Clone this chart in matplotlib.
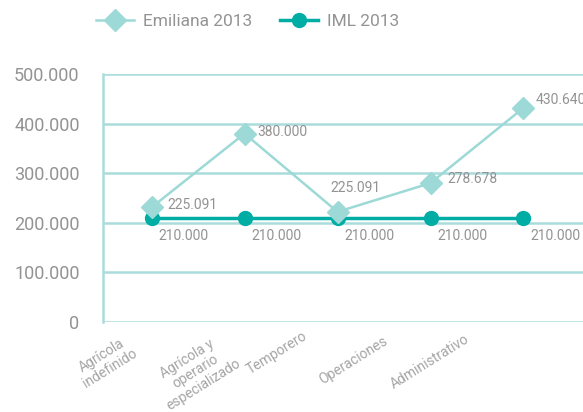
import matplotlib.pyplot as plt
import matplotlib.transforms as mtransforms

# datos
categorias = ['Agrícola\nindefinido', 'Agrícola y\noperario\nespecializado',
              'Temporero', 'Operaciones', 'Administrativo']
emiliana = [231000, 380000, 222000, 280000, 432000]
iml = [210000, 210000, 210000, 210000, 210000]
etiquetas_emiliana = ['225.091', '380.000', '225.091', '278.678', '430.640']
etiquetas_iml = ['210.000', '210.000', '210.000', '210.000', '210.000']
yticks = [0, 100000, 200000, 300000, 400000, 500000]
ytick_labels = ['0', '100.000', '200.000', '300.000', '400.000', '500.000']

plt.rcParams['font.family'] = ['Roboto', 'DejaVu Sans']
gris = '#939393'
c_emi = '#9dd9d6'
c_iml = '#00ada5'
c_grid = '#a9dcdb'

fig = plt.figure(figsize=(5.83, 4.12), dpi=100)
ax = fig.add_axes([0.177, 0.219, 0.823, 0.601])

x = list(range(len(categorias)))
ax.plot(x, emiliana, color=c_emi, lw=1.8, marker='D', ms=11, label='Emiliana 2013', zorder=4)
ax.plot(x, iml, color=c_iml, lw=2.5, marker='o', ms=10, label='IML 2013', zorder=3)

ax.set_xlim(-0.52, 4.64)
ax.set_ylim(0, 500000)
ax.set_yticks(yticks)
ax.set_yticklabels(ytick_labels, fontsize=13, color=gris)
ax.grid(axis='y', color=c_grid, lw=1.8)
ax.set_axisbelow(True)
for s in ['top', 'right', 'bottom']:
    ax.spines[s].set_visible(False)
ax.spines['left'].set_color(c_grid)
ax.spines['left'].set_linewidth(1.8)
ax.tick_params(axis='y', length=0, pad=17)
ax.tick_params(axis='x', length=0)

# etiquetas del eje x desplazadas y rotadas
ax.set_xticks(x)
ax.set_xticklabels(categorias, fontsize=10, color='#a5a5a5', rotation=32,
                   ha='center', va='center', rotation_mode='anchor',
                   multialignment='center', linespacing=1.1)
desplaz = [(-46, -40), (-49, -50), (-61, -31), (-77, -39), (-94, -40)]
for lab, (dx, dy) in zip(ax.get_xticklabels(), desplaz):
    off = mtransforms.ScaledTranslation(dx / 100, dy / 100 + 0.05, fig.dpi_scale_trans)
    lab.set_transform(lab.get_transform() + off)

# etiquetas de valores
off_emi = [(16, 2), (13, 2), (-7, 24), (17, 4), (12, 8)]
for xi, v, t, (dx, dy) in zip(x, emiliana, etiquetas_emiliana, off_emi):
    ax.annotate(t, (xi, v), xytext=(dx * 0.72, dy * 0.72), textcoords='offset points',
                ha='left', va='center', fontsize=10, color=gris)
for xi, v, t in zip(x, iml, etiquetas_iml):
    ax.annotate(t, (xi, v), xytext=(5, -13), textcoords='offset points',
                ha='left', va='center', fontsize=10, color=gris)

fig.legend(loc='center', bbox_to_anchor=(0.425, 0.948), ncol=2, frameon=False,
           fontsize=12.5, labelcolor=gris, handlelength=2.2, columnspacing=1.6,
           handletextpad=0.5)

fig.savefig('out.png', dpi=100)
